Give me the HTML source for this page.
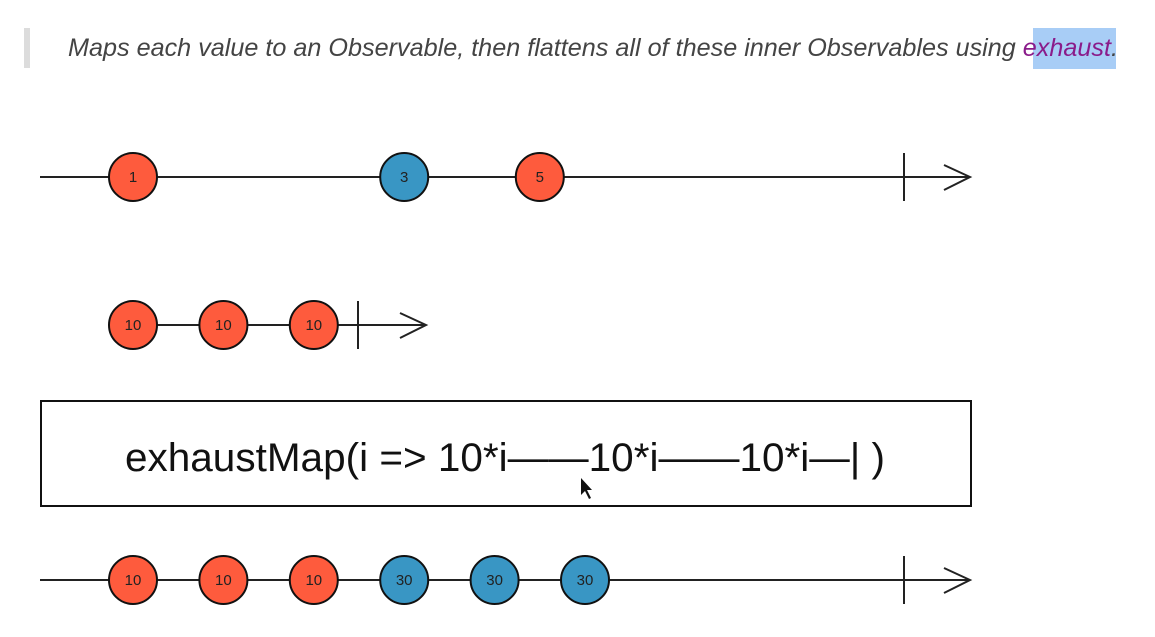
<!DOCTYPE html>
<html><head><meta charset="utf-8"><style>
html,body{margin:0;padding:0;background:#fff;width:1155px;height:637px;overflow:hidden}
svg{display:block}
</style></head><body>
<svg id="chart" width="1155" height="637" viewBox="0 0 1155 637">
<rect x="24" y="28" width="6" height="40" fill="#dcdcdc"/>
<rect x="1033" y="28" width="83" height="41" fill="#a8cdf6"/>
<text x="68" y="56" font-family="Liberation Sans, sans-serif" font-style="italic" font-size="25" fill="#444" textLength="1050" lengthAdjust="spacingAndGlyphs">Maps each value to an Observable, then flattens all of these inner Observables using <tspan fill="#8a1b8a">exhaust</tspan>.</text>
<rect x="41" y="401" width="930" height="105" fill="#fff" stroke="#111" stroke-width="2"/>
<text x="505" y="471" text-anchor="middle" font-family="Liberation Sans, sans-serif" font-size="40" fill="#111" textLength="760" lengthAdjust="spacingAndGlyphs">exhaustMap(i =&gt; 10*i——10*i——10*i—| )</text>
<polygon points="581,478 581,495 585,491 589,499 591,498 587,490 592,490" fill="#111"/>
<g id="marks"></g>
</svg>
<script>
const row1Values = ["1","3","5"];
const row1Times = [0, 3, 4.5];
const row1Colors = ["red","blue","red"];
const row2Values = ["10","10","10"];
const row2Times = [0, 1, 2];
const row3Values = ["10","10","10","30","30","30"];
const row3Times = [0, 1, 2, 3, 4, 5];
const row3Colors = ["red","red","red","blue","blue","blue"];

const NS = "http://www.w3.org/2000/svg";
const g = document.getElementById("marks");
const x = t => 133 + t * 90.4;
const fills = {red:"#fe5b3d", blue:"#3996c4"};
function mk(tag, attrs){const e=document.createElementNS(NS,tag);for(const k in attrs)e.setAttribute(k,attrs[k]);g.appendChild(e);return e;}
function timeline(y, x0, endX, tickX, name){
  const l = mk("line",{x1:x0,y1:y,x2:endX,y2:y,stroke:"#222","stroke-width":2});
  
  
  const t = mk("line",{x1:tickX,y1:y-24,x2:tickX,y2:y+24,stroke:"#222","stroke-width":2});
  
  
  const a = mk("polyline",{points:`${endX-26},${y-12} ${endX},${y} ${endX-26},${y+13}`,fill:"none",stroke:"#222","stroke-width":2});
  
  
}
function marbles(y, vals, times, cols, name){
  vals.forEach((v,i)=>{
    const cx = x(times[i]);
    const c = mk("circle",{cx:cx,cy:y,r:24,fill:fills[cols[i]],stroke:"#111","stroke-width":2});
    
    
    const t = mk("text",{x:cx,y:y+5,"text-anchor":"middle","font-family":"Liberation Sans, sans-serif","font-size":15,fill:"#222"});
    t.textContent = v;
    
    
  });
}
timeline(177, 40, 970, 904, "source");
marbles(177, row1Values, row1Times, row1Colors, "source");
timeline(325, 133, 426, 358, "inner");
marbles(325, row2Values, row2Times, row2Values.map(()=> "red"), "inner");
timeline(580, 40, 970, 904, "result");
marbles(580, row3Values, row3Times, row3Colors, "result");
</script>
</body></html>
